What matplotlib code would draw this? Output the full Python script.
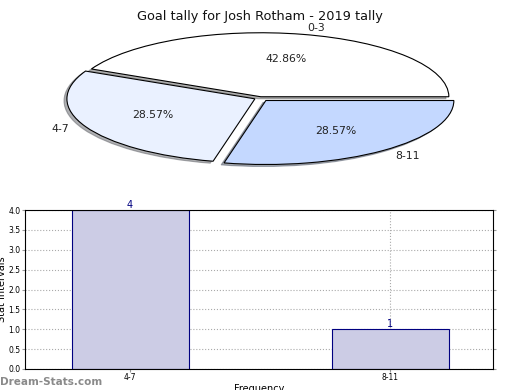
import matplotlib
matplotlib.use("Agg")
import matplotlib.pyplot as plt

pie_labels = ["0-3", "4-7", "8-11"]
pie_values = [3, 2, 2]
pie_colors = ["#ffffff", "#eaf1ff", "#c4d8ff"]
explode = [0.02, 0.03, 0.05]

bar_labels = ["4-7", "8-11"]
bar_values = [4, 1]
yticks = [0.0, 0.5, 1.0, 1.5, 2.0, 2.5, 3.0, 3.5, 4.0]

fig = plt.figure(figsize=(5.2, 3.9), dpi=100)

# Pie (squashed ellipse)
cx, cy, rx, ry = 260, 98, 188, 64
lim = 1.25
W, H = 520, 390
ax1 = fig.add_axes([(cx - lim * rx) / W, (H - cy - lim * ry) / H,
                    2 * lim * rx / W, 2 * lim * ry / H])
wedges, texts, autotexts = ax1.pie(
    pie_values, labels=pie_labels, colors=pie_colors, explode=explode,
    autopct="%.2f%%", startangle=0,
    shadow=dict(ox=-0.011, oy=-0.022, shade=0.6),
    wedgeprops=dict(edgecolor="black", linewidth=0.8),
    textprops=dict(fontsize=7.8, color="#222222"))
ax1.set_aspect("auto")
ax1.set_xlim(-lim, lim)
ax1.set_ylim(-lim, lim)
fig.text(0.5, 0.975, "Goal tally for Josh Rotham - 2019 tally",
         ha="center", va="top", fontsize=9.3, color="#111111")

# Bar chart
ax2 = fig.add_axes([25 / W, 21 / H, 468 / W, 159 / H])
x = list(range(len(bar_labels)))
bars = ax2.bar(x, bar_values, width=0.45, color="#cccce5",
               edgecolor="#000080", linewidth=0.8, zorder=2)
for xi, v in zip(x, bar_values):
    ax2.text(xi, v, str(v), ha="center", va="bottom", fontsize=7,
             color="#000080")
ax2.set_xlim(-0.404, 1.396)
ax2.set_ylim(0, 4)
ax2.set_xticks(x)
ax2.set_xticklabels(bar_labels)
ax2.set_yticks(yticks)
ax2.set_yticklabels([f"{t:.1f}" for t in yticks])
ax2.tick_params(axis="both", labelsize=5.5, length=2, color="#999999",
                right=True, direction="out", pad=1.2)
ax2.grid(True, linestyle=":", color="#aaaaaa", linewidth=0.8, zorder=0)
ax2.set_axisbelow(True)
ax2.set_ylabel("Stat Intervals", fontsize=7, va="center")
ax2.yaxis.set_label_coords(-0.05, 0.5)
ax2.set_xlabel("Frequency", fontsize=7, va="center")
ax2.xaxis.set_label_coords(0.5, -0.125)
for s in ax2.spines.values():
    s.set_linewidth(0.8)

fig.text(0.0, 0.008, "Dream-Stats.com", ha="left", va="bottom",
         fontsize=7.5, color="#8a8a8a", fontweight="bold")

fig.savefig("out.png", dpi=100)
